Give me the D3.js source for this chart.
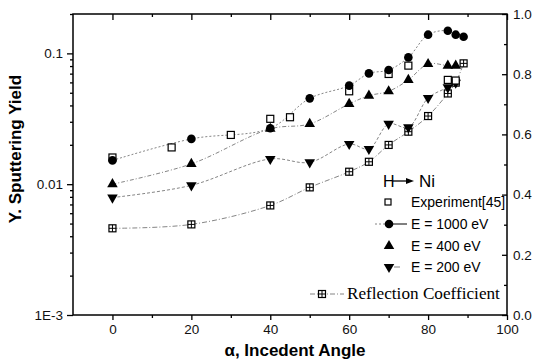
<!DOCTYPE html>
<html>
<head>
<meta charset="utf-8">
<script src="https://cdn.jsdelivr.net/npm/d3@7"></script>
<style>
  body { margin: 0; background: #fff; }
  svg { display: block; }
</style>
</head>
<body>
<svg id="chart"></svg>
<script>
var width = 539;
var height = 363;

// computed series (E = 1000 / 400 / 200 eV) share these angles
var angles = [0, 20, 40, 50, 60, 65, 70, 75, 80, 85, 87, 89];
var e1000 = [0.0152, 0.0222, 0.0268, 0.0453, 0.0567, 0.0703, 0.0746, 0.0932, 0.139, 0.149, 0.139, 0.134];
var e400 = [0.0100, 0.0143, 0.0265, 0.0289, 0.0411, 0.0475, 0.0513, 0.0627, 0.083, 0.0806, 0.0806];
var e200 = [0.0079, 0.0098, 0.0156, 0.0147, 0.0203, 0.0186, 0.0289, 0.0272, 0.0456, 0.055, 0.0597];
var reflection = [0.288, 0.301, 0.364, 0.424, 0.476, 0.509, 0.565, 0.609, 0.661, 0.736, 0.772, 0.836];

var expAngles = [0, 15, 30, 40, 45, 60, 70, 75, 85, 87];
var experiment = [0.0160, 0.0191, 0.0238, 0.0316, 0.0325, 0.0513, 0.0696, 0.0806, 0.0627, 0.062];

var xTicks = [0, 20, 40, 60, 80, 100];
var xMinor = [10, 30, 50, 70, 90];
var yTicks = [0.001, 0.01, 0.1];
var yTickLabels = ["1E-3", "0.01", "0.1"];
var y2Ticks = [0, 0.2, 0.4, 0.6, 0.8, 1.0];
var y2Minor = [0.1, 0.3, 0.5, 0.7, 0.9];

var legendLabels = ["Experiment[45]", "E = 1000 eV", "E = 400 eV", "E = 200 eV"];

// plot box (note: "top" is taken by window.top, so prefix everything)
var pLeft = 73, pRight = 507, pTop = 14, pBottom = 315;
var sans = "'Liberation Sans', Arial, sans-serif";

var svg = d3.select("svg#chart")
    .attr("width", width)
    .attr("height", height);

var x = d3.scaleLinear().domain([-10, 100]).range([pLeft, pRight]);
var y = d3.scaleLog().domain([0.001, 0.2]).range([pBottom, pTop]);
var y2 = d3.scaleLinear().domain([0, 1]).range([pBottom, pTop]);

// log minor ticks 2..9 in each decade
var yMinor = [];
[0.001, 0.01, 0.1].forEach(function(d) {
    for (var k = 2; k <= 9; k++) {
	if (d * k <= 0.2) yMinor.push(d * k);
    }
});

var styleAxis = function(g, size) {
    g.select(".domain").remove();
    g.selectAll("line").attr("stroke", "#000").attr("stroke-width", 1.3);
    g.selectAll("text")
	.attr("font-family", sans)
	.attr("font-size", size)
	.attr("fill", "#111");
};

// bottom axis
svg.append("g").attr("transform", "translate(0," + pBottom + ")")
    .call(d3.axisBottom(x).tickValues(xTicks).tickSize(5).tickPadding(4))
    .call(styleAxis, 13.5);
svg.append("g").attr("transform", "translate(0," + pBottom + ")")
    .call(d3.axisBottom(x).tickValues(xMinor).tickSize(3).tickFormat(""))
    .call(styleAxis, 13.5);
// top axis, ticks inward
svg.append("g").attr("transform", "translate(0," + pTop + ")")
    .call(d3.axisTop(x).tickValues(xTicks).tickSize(-6).tickFormat(""))
    .call(styleAxis, 13.5);
svg.append("g").attr("transform", "translate(0," + pTop + ")")
    .call(d3.axisTop(x).tickValues(xMinor).tickSize(-3).tickFormat(""))
    .call(styleAxis, 13.5);
// left log axis
svg.append("g").attr("transform", "translate(" + pLeft + ",0)")
    .call(d3.axisLeft(y).tickValues(yTicks).tickSize(6).tickPadding(4)
	  .tickFormat(function(d, i) { return yTickLabels[i]; }))
    .call(styleAxis, 13.5);
svg.append("g").attr("transform", "translate(" + pLeft + ",0)")
    .call(d3.axisLeft(y).tickValues(yMinor).tickSize(3).tickFormat(""))
    .call(styleAxis, 13.5);
// right linear axis, ticks inward
svg.append("g").attr("transform", "translate(" + pRight + ",0)")
    .call(d3.axisRight(y2).tickValues(y2Ticks).tickSizeInner(-5).tickSizeOuter(0).tickPadding(6)
	  .tickFormat(d3.format(".1f")))
    .call(styleAxis, 13.5);
svg.append("g").attr("transform", "translate(" + pRight + ",0)")
    .call(d3.axisRight(y2).tickValues(y2Minor).tickSizeInner(-3).tickSizeOuter(0).tickFormat(""))
    .call(styleAxis, 13.5);

// frame
svg.append("rect")
    .attr("x", pLeft).attr("y", pTop)
    .attr("width", pRight - pLeft).attr("height", pBottom - pTop)
    .attr("fill", "none")
    .attr("stroke", "#000")
    .attr("stroke-width", 1.5);

// axis titles
svg.append("text")
    .text("\u03b1, Incedent Angle")
    .attr("x", (pLeft + pRight) / 2 + 5)
    .attr("y", 356)
    .attr("text-anchor", "middle")
    .attr("font-family", sans)
    .attr("font-weight", "bold")
    .attr("font-size", 17);
svg.append("text")
    .text("Y. Sputtering Yield")
    .attr("transform", "translate(21,149) rotate(-90)")
    .attr("text-anchor", "middle")
    .attr("font-family", sans)
    .attr("font-weight", "bold")
    .attr("font-size", 17);

// connecting lines
var makeLine = function(xs, scale) {
    return d3.line()
	.x(function(d, i) { return x(xs[i]); })
	.y(function(d) { return scale(d); })
	.curve(d3.curveCatmullRom.alpha(0.5));
};

var drawLine = function(vals, scale, dash) {
    svg.append("path")
	.datum(vals)
	.attr("d", makeLine(angles, scale))
	.attr("fill", "none")
	.attr("stroke", "#777")
	.attr("stroke-width", 0.9)
	.attr("stroke-dasharray", dash);
};

drawLine(e1000, y, "2,2");
drawLine(e400, y, "4,2,1,2");
drawLine(e200, y, "3,2");
drawLine(reflection, y2, "5,2,1,2");

// marker shapes
var triUp = d3.symbol().type(d3.symbolTriangle).size(48);
var circ = d3.symbol().type(d3.symbolCircle).size(58);

var drawSquare = function(g, cx, cy, s) {
    g.append("rect")
	.attr("x", cx - s / 2).attr("y", cy - s / 2)
	.attr("width", s).attr("height", s)
	.attr("fill", "#fff")
	.attr("stroke", "#000")
	.attr("stroke-width", 1.2);
};

var drawGridSquare = function(g, cx, cy) {
    var s = 7;
    drawSquare(g, cx, cy, s);
    g.append("path")
	.attr("d", "M" + (cx - s / 2) + "," + cy + "H" + (cx + s / 2) +
	      "M" + cx + "," + (cy - s / 2) + "V" + (cy + s / 2))
	.attr("stroke", "#000")
	.attr("stroke-width", 1);
};

var drawTriangle = function(g, cx, cy, down) {
    g.append("path")
	.attr("d", triUp())
	.attr("transform", "translate(" + cx + "," + cy + ")" + (down ? " rotate(180)" : ""))
	.attr("fill", "#000");
};

var drawCircle = function(g, cx, cy) {
    g.append("path")
	.attr("d", circ())
	.attr("transform", "translate(" + cx + "," + cy + ")")
	.attr("fill", "#000");
};

var marks = svg.append("g");

reflection.forEach(function(d, i) { drawGridSquare(marks, x(angles[i]), y2(d)); });
e200.forEach(function(d, i) { drawTriangle(marks, x(angles[i]), y(d), true); });
e400.forEach(function(d, i) { drawTriangle(marks, x(angles[i]), y(d), false); });
experiment.forEach(function(d, i) { drawSquare(marks, x(expAngles[i]), y(d), 7); });
e1000.forEach(function(d, i) { drawCircle(marks, x(angles[i]), y(d)); });

// legend
var lg = svg.append("g");
lg.append("text").text("H")
    .attr("x", 383).attr("y", 187)
    .attr("font-family", sans).attr("font-size", 16);
lg.append("line")
    .attr("x1", 393).attr("x2", 408).attr("y1", 181).attr("y2", 181)
    .attr("stroke", "#000").attr("stroke-width", 1.3);
lg.append("path")
    .attr("d", "M406,178L414,181L406,184Z")
    .attr("fill", "#000");
lg.append("text").text("Ni")
    .attr("x", 419).attr("y", 187)
    .attr("font-family", sans).attr("font-size", 17);

var rowY = [202, 224, 246, 267];
legendLabels.forEach(function(label, i) {
    lg.append("text").text(label)
	.attr("x", 411).attr("y", rowY[i] + 5)
	.attr("font-family", sans)
	.attr("font-size", 14);
});
drawSquare(lg, 388, rowY[0], 6);
lg.append("line")
    .attr("x1", 375).attr("x2", 386).attr("y1", rowY[1]).attr("y2", rowY[1])
    .attr("stroke", "#777").attr("stroke-width", 0.9).attr("stroke-dasharray", "2,2");
lg.append("line")
    .attr("x1", 392).attr("x2", 407).attr("y1", rowY[1]).attr("y2", rowY[1])
    .attr("stroke", "#000").attr("stroke-width", 1);
drawCircle(lg, 389, rowY[1]);
drawTriangle(lg, 389, rowY[2], false);
drawTriangle(lg, 389, rowY[3], true);
lg.append("line")
    .attr("x1", 394).attr("x2", 400).attr("y1", rowY[3]).attr("y2", rowY[3])
    .attr("stroke", "#777").attr("stroke-width", 0.9);

// reflection coefficient entry (serif)
lg.append("line")
    .attr("x1", 310).attr("x2", 344).attr("y1", 294).attr("y2", 294)
    .attr("stroke", "#777").attr("stroke-width", 0.9).attr("stroke-dasharray", "5,2,1,2");
drawGridSquare(lg, 322, 294);
lg.append("text").text("Reflection Coefficient")
    .attr("x", 347).attr("y", 299)
    .attr("font-family", "'Liberation Serif', 'Times New Roman', serif")
    .attr("font-size", 17.2);
</script>
</body>
</html>
